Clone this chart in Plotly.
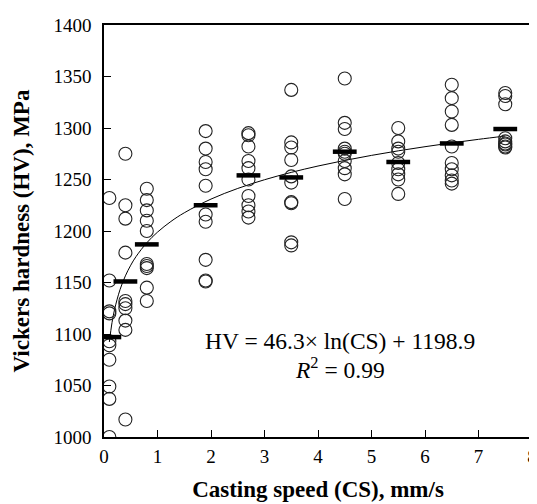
import math
import plotly.graph_objects as go

# Casting speeds (mm/s)
speeds = [0.1, 0.4, 0.8, 1.9, 2.7, 3.5, 4.5, 5.5, 6.5, 7.5]

# Individual hardness measurements (MPa) per speed
hv_01 = [1232, 1152, 1122, 1120, 1093, 1089, 1075, 1049, 1037, 1000]
hv_04 = [1275, 1225, 1212, 1179, 1132, 1129, 1125, 1113, 1104, 1017]
hv_08 = [1241, 1230, 1220, 1210, 1200, 1168, 1166, 1164, 1145, 1132]
hv_19 = [1297, 1280, 1267, 1260, 1244, 1216, 1209, 1172, 1152, 1151]
hv_27 = [1295, 1293, 1282, 1268, 1261, 1250, 1234, 1225, 1219, 1213]
hv_35 = [1337, 1286, 1281, 1269, 1253, 1247, 1228, 1227, 1189, 1186]
hv_45 = [1348, 1305, 1299, 1280, 1277, 1275, 1268, 1261, 1255, 1231]
hv_55 = [1300, 1287, 1280, 1277, 1266, 1260, 1255, 1250, 1236]
hv_65 = [1342, 1329, 1316, 1303, 1282, 1266, 1260, 1254, 1249, 1246]
hv_75 = [1334, 1331, 1323, 1290, 1287, 1285, 1284, 1282, 1281]

# Mean hardness per speed (MPa)
hv_mean = [1097, 1151, 1187, 1225, 1254, 1252, 1277, 1267, 1285, 1299]

# Logarithmic fit HV = a*ln(CS) + b, as printed on the chart
fit_a = 46.3
fit_b = 1198.9
fit_x = [0.1, 0.15, 0.2, 0.3, 0.4, 0.5, 0.6, 0.8, 1.0, 1.25, 1.5, 2.0, 2.5, 3.0,
         3.5, 4.0, 4.5, 5.0, 5.5, 6.0, 6.5, 7.0, 7.5]

x_ticks = [0, 1, 2, 3, 4, 5, 6, 7, 8]
y_ticks = [1000, 1050, 1100, 1150, 1200, 1250, 1300, 1350, 1400]

fit_y = [fit_a * math.log(v) + fit_b for v in fit_x]

groups = [hv_01, hv_04, hv_08, hv_19, hv_27, hv_35, hv_45, hv_55, hv_65, hv_75]
pts_x, pts_y = [], []
for s, g in zip(speeds, groups):
    for v in g:
        pts_x.append(s)
        pts_y.append(v)

FONT = "Liberation Serif, Times New Roman, serif"

fig = go.Figure()
fig.add_trace(go.Scatter(
    x=fit_x, y=fit_y, mode="lines",
    line=dict(color="black", width=1, shape="spline"),
    showlegend=False, hoverinfo="skip"))
fig.add_trace(go.Scatter(
    x=pts_x, y=pts_y, mode="markers",
    marker=dict(symbol="circle-open", size=13, color="#222222",
                line=dict(width=1.1)),
    showlegend=False))
fig.add_trace(go.Scatter(
    x=speeds, y=hv_mean, mode="markers",
    marker=dict(symbol="line-ew", size=17, color="black",
                line=dict(width=4.5, color="black")),
    showlegend=False))

fig.add_annotation(
    x=4.42, y=1093, xref="x", yref="y",
    text="HV = 46.3\u00d7 ln(CS) + 1198.9",
    showarrow=False, font=dict(family=FONT, size=23.5, color="black"))
fig.add_annotation(
    x=4.42, y=1067, xref="x", yref="y",
    text="<i>R</i><sup>2</sup> = 0.99",
    showarrow=False, font=dict(family=FONT, size=23.5, color="black"))

axis_common = dict(
    showgrid=False, zeroline=False, showline=True, linecolor="black",
    linewidth=1.5, mirror=True, ticks="inside", ticklen=7, tickwidth=1.3,
    tickcolor="black", tickfont=dict(family=FONT, size=19, color="black"),
    ticklabeloverflow="allow",
)

fig.update_xaxes(
    range=[0, 8], tickvals=x_ticks, ticklabelstandoff=1,
    title=dict(text="<b>Casting speed (CS), mm/s</b>",
               font=dict(family=FONT, size=23, color="black"), standoff=15),
    **axis_common)
fig.update_yaxes(
    range=[1000, 1400], tickvals=y_ticks, ticklabelstandoff=7,
    title=dict(text="<b>Vickers hardness (HV), MPa</b>",
               font=dict(family=FONT, size=23, color="black"), standoff=17),
    **axis_common)

# the page body adds an 8 px offset, so margins are shifted accordingly
fig.update_layout(
    width=537, height=504,
    margin=dict(l=96, r=13, t=7, b=75),
    paper_bgcolor="white", plot_bgcolor="white",
    font=dict(family=FONT, color="black"),
)

fig.write_html("out.html")
